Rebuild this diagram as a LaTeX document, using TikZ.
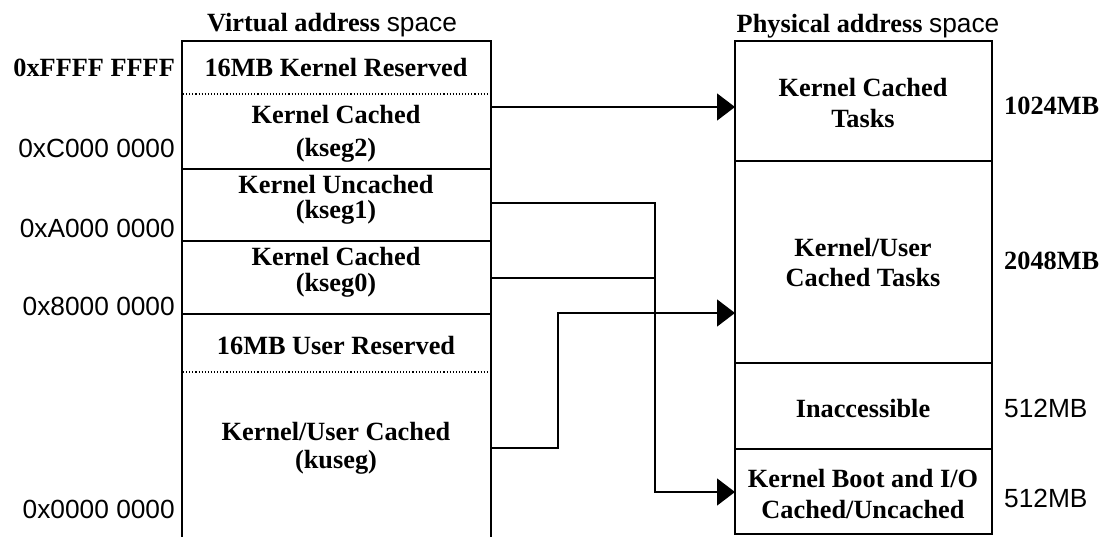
\documentclass[tikz,border=0pt]{standalone}
\usepackage{fontspec}
\setmainfont{Liberation Serif}
\setsansfont{Liberation Sans}
\usetikzlibrary{arrows.meta}
\begin{document}
\begin{tikzpicture}[x=1pt,y=-1pt,
  boxline/.style={line width=1.8pt},
  divider/.style={line width=2.5pt},
  dotline/.style={line width=1.1pt, dash pattern=on 1.1pt off 2pt},
  wire/.style={line width=1.5pt},
  arrowwire/.style={wire, -{Triangle[length=18pt,width=27pt]}},
  lbl/.style={font=\fontsize{26.3}{30}\selectfont\bfseries, anchor=base, inner sep=0pt},
  addr/.style={font=\fontsize{26.3}{30}\selectfont\sffamily, anchor=base east, inner sep=0pt},
  addrb/.style={font=\fontsize{26.3}{30}\selectfont\bfseries, anchor=base east, inner sep=0pt},
  sizes/.style={font=\fontsize{26.3}{30}\selectfont\sffamily, anchor=base west, inner sep=0pt},
  sizeb/.style={font=\fontsize{26.3}{30}\selectfont\bfseries, anchor=base west, inner sep=0pt},
  title/.style={font=\fontsize{26.3}{30}\selectfont, anchor=base, inner sep=0pt}]
\useasboundingbox (0,0) rectangle (1106,537);

% titles
\node[title] (vtitle) at (332,32) {\textbf{Virtual address} \textsf{space}};
\node[title] (ptitle) at (868,33) {\textbf{Physical address} \textsf{space}};

% virtual address column
\draw[boxline] (182,537) -- (182,41) -- (491,41) -- (491,537);
\draw[dotline] (183,94) -- (490,94);
\draw[divider] (182,169) -- (491,169);
\draw[divider] (182,241) -- (491,241);
\draw[divider] (182,314) -- (491,314);
\draw[dotline] (183,372) -- (490,372);

\node[lbl] (vkr) at (336,77) {16MB Kernel Reserved};
\node[lbl] (vk2a) at (336,124) {Kernel Cached};
\node[lbl] (vk2b) at (336,157) {(kseg2)};
\node[lbl] (vk1a) at (336,194) {Kernel Uncached};
\node[lbl] (vk1b) at (336,219) {(kseg1)};
\node[lbl] (vk0a) at (336,266) {Kernel Cached};
\node[lbl] (vk0b) at (336,292) {(kseg0)};
\node[lbl] (vur) at (336,355) {16MB User Reserved};
\node[lbl] (vkua) at (336,440) {Kernel/User Cached};
\node[lbl] (vkub) at (336,468) {(kuseg)};

% addresses
\node[addrb] (aF) at (175,77) {0xFFFF FFFF};
\node[addr] (aC) at (175,158) {0xC000 0000};
\node[addr] (aA) at (175,238) {0xA000 0000};
\node[addr] (a8) at (175,316) {0x8000 0000};
\node[addr] (a0) at (175,518) {0x0000 0000};

% physical address column
\draw[boxline] (735,41) rectangle (992,534);
\draw[divider] (735,161) -- (992,161);
\draw[divider] (735,363) -- (992,363);
\draw[divider] (735,449) -- (992,449);

\node[lbl] (pkca) at (863,97) {Kernel Cached};
\node[lbl] (pkcb) at (863,128) {Tasks};
\node[lbl] (pkua) at (863,257) {Kernel/User};
\node[lbl] (pkub) at (863,287) {Cached Tasks};
\node[lbl] (pina) at (863,417) {Inaccessible};
\node[lbl] (pkba) at (863,487) {Kernel Boot and I/O};
\node[lbl] (pkbb) at (863,518) {Cached/Uncached};

% sizes
\node[sizeb] (s1) at (1004,115) {1024MB};
\node[sizeb] (s2) at (1004,270) {2048MB};
\node[sizes] (s3) at (1004,417) {512MB};
\node[sizes] (s4) at (1004,507) {512MB};

% connector end points
\coordinate (k2out) at (491,107);
\coordinate (k1out) at (491,203);
\coordinate (k0out) at (491,278);
\coordinate (kuout) at (491,448);
\coordinate (pkcin) at (735,107);
\coordinate (pkuin) at (735,313);
\coordinate (pkbin) at (735,492);
\coordinate (bend1) at (655,492);
\coordinate (join0) at (655,278);
\coordinate (bend2) at (558,313);

\draw[arrowwire] (k2out) -- (pkcin);
\draw[arrowwire] (k1out) -| (bend1) -- (pkbin);
\draw[wire] (k0out) -- (join0);
\draw[arrowwire] (kuout) -| (bend2) -- (pkuin);
\end{tikzpicture}
\end{document}
